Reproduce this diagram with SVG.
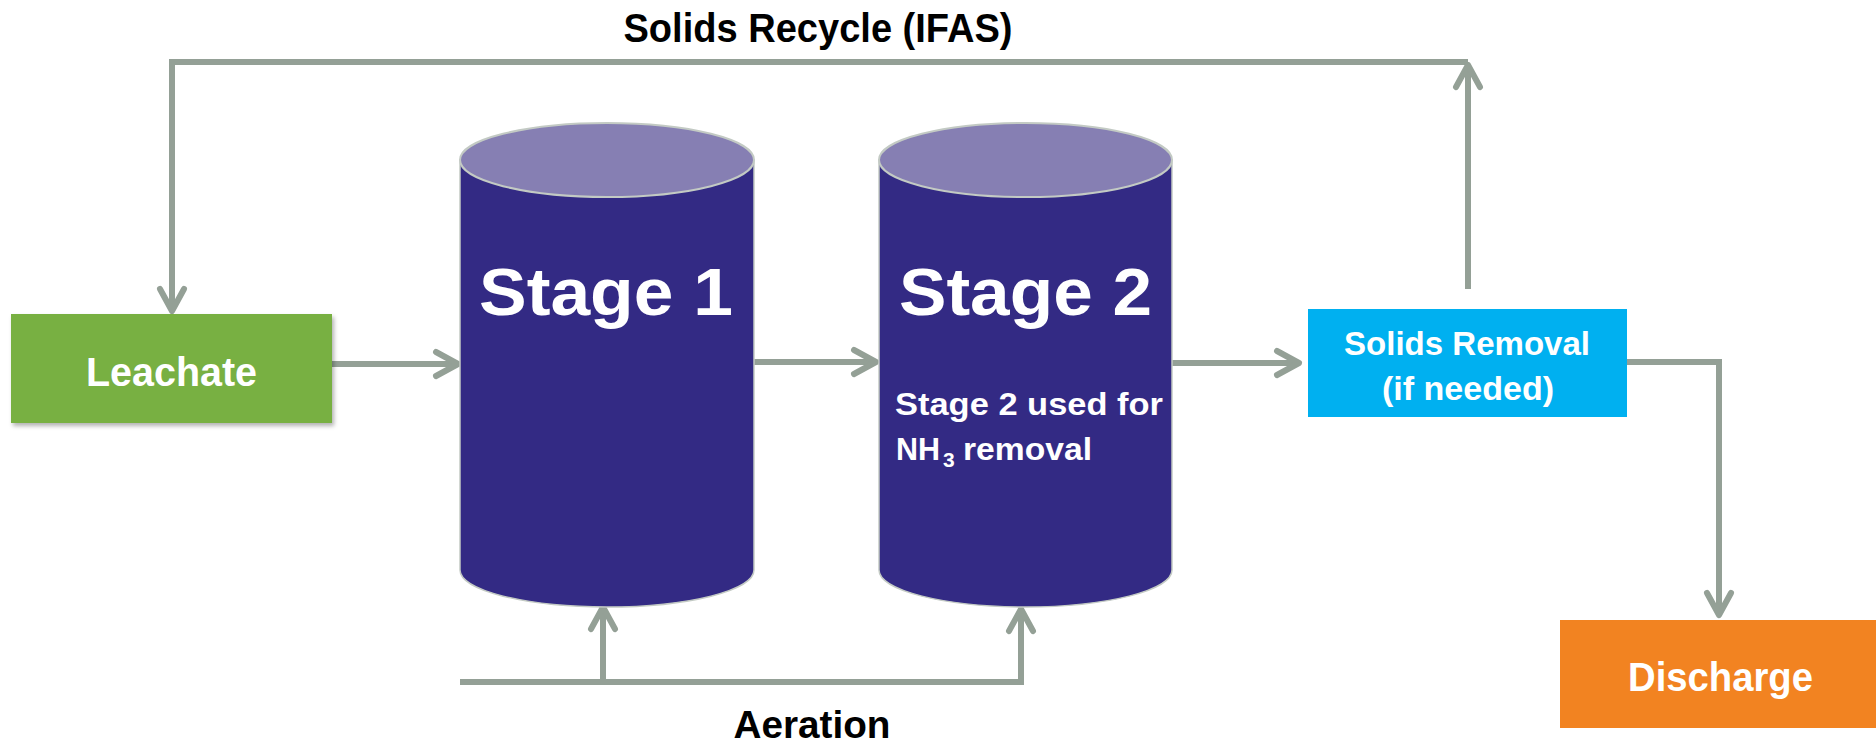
<svg xmlns="http://www.w3.org/2000/svg" width="1876" height="743" viewBox="0 0 1876 743">
  <style>
    .lbl { font-family: "Liberation Sans", Arial, sans-serif; font-weight: bold; fill: #ffffff; }
    .cap { font-family: "Liberation Sans", Arial, sans-serif; font-weight: bold; fill: #000000; }
    .flow { fill: none; stroke: #94A096; stroke-width: 6; stroke-linejoin: miter; }
    .tank { fill: #332A84; stroke: #C3CAC4; stroke-width: 1.5; }
    .lid { fill: #867FB3; stroke: #C3CAC4; stroke-width: 2; }
  </style>
  <defs>
    <marker id="chev" viewBox="-30 -18 36 36" markerWidth="36" markerHeight="36" refX="0" refY="0" orient="auto" markerUnits="userSpaceOnUse">
      <path d="M-23,-12 L-1,0 L-23,12" fill="none" stroke="#94A096" stroke-width="6" stroke-linecap="round" stroke-linejoin="round"/>
    </marker>
    <filter id="shadow" x="-10%" y="-10%" width="125%" height="130%">
      <feDropShadow dx="2" dy="3" stdDeviation="2" flood-color="#000000" flood-opacity="0.3"/>
    </filter>
  </defs>

  <!-- captions -->
  <text class="cap" x="818" y="42" font-size="40" text-anchor="middle" textLength="389" lengthAdjust="spacingAndGlyphs">Solids Recycle (IFAS)</text>
  <text class="cap" x="812" y="738" font-size="38" text-anchor="middle" textLength="157" lengthAdjust="spacingAndGlyphs">Aeration</text>

  <!-- connectors -->
  <g id="connectors">
    <path class="flow" d="M1468,289 V64" marker-end="url(#chev)"/>
    <path class="flow" d="M1468,62 H172 V312" marker-end="url(#chev)"/>
    <path class="flow" d="M332,364 H459" marker-end="url(#chev)"/>
    <path class="flow" d="M754,362 H877" marker-end="url(#chev)"/>
    <path class="flow" d="M1172,363 H1300" marker-end="url(#chev)"/>
    <path class="flow" d="M1627,362 H1719 V616" marker-end="url(#chev)"/>
    <path class="flow" d="M460,682 H1021"/>
    <path class="flow" d="M603,682 V606" marker-end="url(#chev)"/>
    <path class="flow" d="M1021,685 V608" marker-end="url(#chev)"/>
  </g>

  <!-- feed -->
  <g id="leachate">
    <rect x="11" y="314" width="321" height="109" fill="#78B043" filter="url(#shadow)"/>
    <text class="lbl" x="171.5" y="386" font-size="40" text-anchor="middle" textLength="171" lengthAdjust="spacingAndGlyphs">Leachate</text>
  </g>

  <!-- first reactor -->
  <g id="stage1">
    <path class="tank" d="M460,160 V570 A147,37 0 0 0 754,570 V160 Z"/>
    <ellipse class="lid" cx="607" cy="160" rx="147" ry="37"/>
    <text class="lbl" x="606" y="315" font-size="67" text-anchor="middle" textLength="254" lengthAdjust="spacingAndGlyphs">Stage 1</text>
  </g>

  <!-- second reactor -->
  <g id="stage2">
    <path class="tank" d="M879,160 V570 A146.5,37 0 0 0 1172,570 V160 Z"/>
    <ellipse class="lid" cx="1025.5" cy="160" rx="146.5" ry="37"/>
    <text class="lbl" x="1025.5" y="315" font-size="67" text-anchor="middle" textLength="253" lengthAdjust="spacingAndGlyphs">Stage 2</text>
    <text class="lbl" x="895" y="415" font-size="32" textLength="268" lengthAdjust="spacingAndGlyphs">Stage 2 used for</text>
    <text class="lbl" y="460" font-size="32"><tspan x="896" textLength="44" lengthAdjust="spacingAndGlyphs">NH</tspan><tspan x="943" dy="7" font-size="21">3</tspan><tspan x="963" dy="-7" textLength="129" lengthAdjust="spacingAndGlyphs">removal</tspan></text>
  </g>

  <!-- clarifier -->
  <g id="solids-removal">
    <rect x="1308" y="309" width="319" height="108" fill="#00B0F0"/>
    <text class="lbl" x="1467" y="355" font-size="34" text-anchor="middle" textLength="246" lengthAdjust="spacingAndGlyphs">Solids Removal</text>
    <text class="lbl" x="1468" y="400" font-size="34" text-anchor="middle" textLength="172" lengthAdjust="spacingAndGlyphs">(if needed)</text>
  </g>

  <!-- effluent -->
  <g id="discharge">
    <rect x="1560" y="620" width="316" height="108" fill="#F28321"/>
    <text class="lbl" x="1720.5" y="691" font-size="40" text-anchor="middle" textLength="185" lengthAdjust="spacingAndGlyphs">Discharge</text>
  </g>
</svg>
